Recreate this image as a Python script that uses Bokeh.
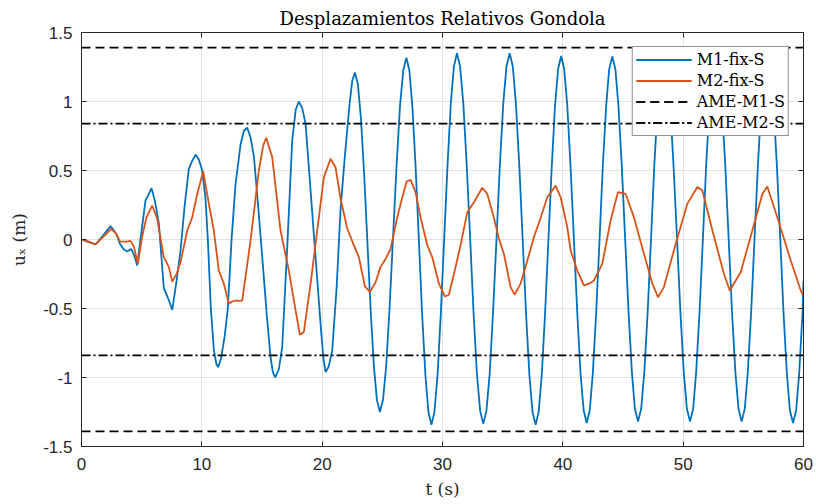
from bokeh.plotting import figure
from bokeh.models import LinearAxis, FixedTicker, CustomJSTickFormatter, Range1d
from bokeh.embed import file_html
from bokeh.resources import INLINE

# ---- data ----
t_m1 = [0, 0.5, 1.16, 1.8, 2.41, 2.9, 3.19, 3.5, 3.8, 4.13, 4.4, 4.63, 4.96, 5.32, 5.6, 5.82,
        6.1, 6.43, 6.84, 7.26, 7.54, 7.9, 8.23, 8.56, 8.92, 9.2, 9.48, 9.75, 10.03, 10.3, 10.5,
        10.75, 11.0, 11.2, 11.36, 11.6, 11.9, 12.16, 12.47, 12.8, 13.22, 13.5, 13.77, 14.05,
        14.33, 14.7, 15.02, 15.4, 15.71, 15.9, 16.1, 16.4, 16.68, 17.1, 17.51, 17.8, 18.06,
        18.35, 18.62, 19.0, 19.45, 19.9, 20.1, 20.28, 20.55, 20.84, 21.2, 21.53, 21.9, 22.3,
        22.5, 22.72,
        22.97, 23.22, 23.49, 23.76, 24.03, 24.30, 24.55, 24.80,
        25.06, 25.33, 25.61, 25.90, 26.19, 26.47, 26.74, 27.00,
        27.25, 27.50, 27.77, 28.04, 28.31, 28.58, 28.83, 29.08,
        29.33, 29.59, 29.86, 30.14, 30.42, 30.69, 30.95, 31.20,
        31.46, 31.73, 32.01, 32.30, 32.58, 32.86, 33.13, 33.39,
        33.65, 33.92, 34.20, 34.49, 34.77, 35.05, 35.32, 35.58,
        35.84, 36.10, 36.38, 36.66, 36.94, 37.22, 37.48, 37.74,
        37.99, 38.25, 38.52, 38.80, 39.08, 39.35, 39.61, 39.86,
        40.11, 40.37, 40.64, 40.92, 41.20, 41.47, 41.73, 41.98,
        42.24, 42.49, 42.77, 43.05, 43.32, 43.60, 43.85, 44.11,
        44.37, 44.62, 44.90, 45.18, 45.46, 45.74, 45.99, 46.25,
        46.51, 46.77, 47.05, 47.33, 47.60, 47.88, 48.14, 48.40,
        48.66, 48.92, 49.20, 49.49, 49.77, 50.05, 50.31, 50.57,
        50.83, 51.08, 51.36, 51.64, 51.91, 52.19, 52.44, 52.70,
        52.96, 53.22, 53.50, 53.78, 54.06, 54.34, 54.60, 54.86,
        55.12, 55.37, 55.65, 55.93, 56.21, 56.49, 56.74, 57.00,
        57.26, 57.51, 57.79, 58.07, 58.34, 58.62, 58.87, 59.13,
        59.39, 59.64, 59.92, 60.0]
u_m1 = [0, -0.015, -0.036, 0.03, 0.097, 0.04, -0.03, -0.07, -0.087, -0.068, -0.12, -0.188,
        0.04, 0.283, 0.33, 0.372, 0.28, 0.114, -0.35, -0.44, -0.51, -0.3, -0.08, 0.234, 0.512,
        0.57, 0.614, 0.58, 0.5, 0.3, 0.0, -0.5, -0.8, -0.9, -0.925, -0.86, -0.7, -0.5, 0.0,
        0.4, 0.69, 0.79, 0.81, 0.74, 0.60, 0.22, -0.128, -0.55, -0.853, -0.96, -1.0, -0.94,
        -0.78, -0.05, 0.717, 0.94, 1.0, 0.95, 0.838, 0.4, -0.128, -0.65, -0.86, -0.96, -0.92,
        -0.80, -0.35, 0.22, 0.62, 1.0, 1.15, 1.21,
        1.124, 0.878, 0.472, -0.02, -0.512, -0.918, -1.164, -1.25,
        -1.16, -0.904, -0.48, 0.033, 0.546, 0.97, 1.226, 1.317,
        1.224, 0.958, 0.519, -0.013, -0.545, -0.984, -1.25, -1.343,
        -1.249, -0.979, -0.535, 0.004, 0.542, 0.986, 1.256, 1.35,
        1.256, 0.987, 0.544, 0.007, -0.53, -0.973, -1.242, -1.336,
        -1.242, -0.973, -0.53, 0.007, 0.544, 0.987, 1.256, 1.35,
        1.256, 0.986, 0.542, 0.004, -0.535, -0.979, -1.249, -1.343,
        -1.249, -0.982, -0.541, -0.007, 0.528, 0.969, 1.236, 1.33,
        1.237, 0.971, 0.532, 0.0, -0.532, -0.971, -1.237, -1.33,
        -1.237, -0.971, -0.533, -0.002, 0.529, 0.967, 1.233, 1.326,
        1.233, 0.969, 0.532, 0.003, -0.526, -0.963, -1.227, -1.32,
        -1.227, -0.962, -0.525, 0.005, 0.535, 0.972, 1.237, 1.33,
        1.237, 0.972, 0.535, 0.005, -0.525, -0.962, -1.227, -1.32,
        -1.227, -0.962, -0.525, 0.005, 0.535, 0.972, 1.237, 1.33,
        1.237, 0.972, 0.535, 0.005, -0.525, -0.962, -1.227, -1.32,
        -1.227, -0.962, -0.525, 0.005, 0.535, 0.972, 1.237, 1.33,
        1.237, 0.971, 0.532, 0.0, -0.532, -0.971, -1.237, -1.33,
        -1.237, -0.971, -0.532, -0.3]

t_m2 = [0, 0.5, 1.16, 1.8, 2.47, 2.9, 3.19, 3.74, 4.07, 4.35, 4.68, 5.04, 5.4, 5.87, 6.29,
        6.84, 7.26, 7.54, 7.9, 8.23, 8.79, 9.2, 9.62, 10.11, 10.58, 11.0, 11.41, 11.83, 12.25,
        12.5, 12.8, 13.1, 13.36, 14.05, 14.74, 15.1, 15.35, 15.85, 16.54, 17.23, 17.79, 18.15,
        18.48, 19.04, 19.59, 20.14, 20.7, 21.11, 21.53, 22.09, 22.64, 23.05, 23.55, 23.97,
        24.44, 24.85, 25.27, 25.69, 26.24, 26.66, 27.02, 27.35, 27.76, 28.18, 28.74, 29.15,
        29.7, 30.2, 30.53, 30.95, 31.5, 32.06, 32.61, 33.31, 33.72, 34.27, 34.69, 35.1, 35.66,
        35.99, 36.49, 37.05, 37.6, 38.16, 38.71, 39.4, 39.82, 40.37, 40.65, 41.2, 41.75, 42.2,
        42.58, 43.28, 43.97, 44.58, 45.22, 45.91, 46.74, 47.44, 47.91, 48.4, 49.38, 50.35,
        51.18, 51.6, 52.43, 53.39, 53.87, 54.78, 55.75, 56.58, 56.99, 57.83, 58.94, 59.77, 60.0]
u_m2 = [0, -0.012, -0.036, 0.02, 0.077, 0.04, -0.013, -0.015, -0.01, -0.05, -0.176, 0.02,
        0.16, 0.246, 0.15, -0.128, -0.2, -0.305, -0.25, -0.164, 0.065, 0.16, 0.33, 0.495, 0.26,
        0.065, -0.225, -0.32, -0.466, -0.45, -0.442, -0.445, -0.442, -0.007, 0.5, 0.68, 0.737,
        0.597, 0.065, -0.225, -0.514, -0.69, -0.67, -0.32, 0.065, 0.45, 0.585, 0.524, 0.295,
        0.078, -0.043, -0.128, -0.34, -0.38, -0.31, -0.20, -0.14, -0.068, 0.16, 0.306, 0.42,
        0.432, 0.343, 0.16, -0.043, -0.128, -0.32, -0.413, -0.40, -0.25, -0.043, 0.198, 0.27,
        0.375, 0.33, 0.16, 0.005, -0.104, -0.345, -0.40, -0.32, -0.152, 0.017, 0.16, 0.306,
        0.39, 0.306, 0.09, -0.08, -0.225, -0.333, -0.32, -0.297, -0.176, 0.138, 0.343, 0.33,
        0.16, -0.104, -0.32, -0.418, -0.345, -0.03, 0.26, 0.38, 0.355, 0.065, -0.25, -0.37,
        -0.237, 0.065, 0.33, 0.384, 0.16, -0.152, -0.37, -0.41]

ame_m1 = 1.39
ame_m2 = 0.84
t_span = [0, 60]
x_ticks = [0, 10, 20, 30, 40, 50, 60]
y_ticks = [-1.5, -1, -0.5, 0, 0.5, 1, 1.5]

AXIS_COLOR = "#262626"
TICK_FONT = "Liberation Sans"
SERIF = "DejaVu Serif"

p = figure(width=816, height=504, output_backend="svg", toolbar_location=None,
           x_range=Range1d(t_span[0], t_span[1]), y_range=Range1d(-1.5, 1.5),
           min_border_left=81, min_border_right=13, min_border_top=32, min_border_bottom=58,
           title="Desplazamientos Relativos Gondola",
           x_axis_label="t (s)", y_axis_label="uₓ (m)")

p.title.align = "center"
p.title.text_font = SERIF
p.title.text_font_size = "18px"
p.title.text_font_style = "normal"
p.title.text_color = "black"
p.title.offset = 0
p.title.standoff = 8

p.background_fill_color = "white"
p.border_fill_color = "white"
p.outline_line_color = AXIS_COLOR
p.outline_line_width = 1

fmt = CustomJSTickFormatter(code="return tick.toString();")

for ax in (p.xaxis[0], p.yaxis[0]):
    ax.ticker = FixedTicker(ticks=x_ticks if ax is p.xaxis[0] else y_ticks)
    ax.formatter = fmt
    ax.major_tick_in = 5
    ax.major_tick_out = 0
    ax.minor_tick_line_color = None
    ax.axis_line_color = AXIS_COLOR
    ax.major_tick_line_color = AXIS_COLOR
    ax.major_label_text_font = TICK_FONT
    ax.major_label_text_font_size = "17px"
    ax.major_label_text_color = AXIS_COLOR
    ax.axis_label_text_font = SERIF
    ax.axis_label_text_font_size = "17px"
    ax.axis_label_text_font_style = "normal"
    ax.axis_label_text_color = AXIS_COLOR

p.xaxis[0].major_label_standoff = 11
p.xaxis[0].axis_label_standoff = 6
p.yaxis[0].major_label_standoff = 9
p.yaxis[0].axis_label_standoff = 11

top_ax = LinearAxis(ticker=FixedTicker(ticks=x_ticks), formatter=fmt)
right_ax = LinearAxis(ticker=FixedTicker(ticks=y_ticks), formatter=fmt)
for ax in (top_ax, right_ax):
    ax.major_tick_in = 5
    ax.major_tick_out = 0
    ax.minor_tick_line_color = None
    ax.axis_line_color = AXIS_COLOR
    ax.major_tick_line_color = AXIS_COLOR
    ax.major_label_text_font_size = "1px"
    ax.major_label_text_color = None
    ax.major_label_standoff = 0
p.add_layout(top_ax, "above")
p.add_layout(right_ax, "right")

p.xgrid.ticker = FixedTicker(ticks=x_ticks)
p.ygrid.ticker = FixedTicker(ticks=y_ticks)
p.xgrid.grid_line_color = "#e2e2e2"
p.ygrid.grid_line_color = "#e2e2e2"

p.line(t_m1, u_m1, line_color="#0072BD", line_width=1.8, legend_label="M1-fix-S")
p.line(t_m2, u_m2, line_color="#D95319", line_width=1.8, legend_label="M2-fix-S")
for sgn in (1, -1):
    p.line(t_span, [sgn * ame_m1, sgn * ame_m1], line_color="black", line_width=1.7,
           line_dash="9 5", legend_label="AME-M1-S")
for sgn in (1, -1):
    p.line(t_span, [sgn * ame_m2, sgn * ame_m2], line_color="black", line_width=1.7,
           line_dash="9 3 2 3", legend_label="AME-M2-S")

lg = p.legend[0]
lg.location = "top_right"
lg.margin = 14
lg.padding = 3
lg.spacing = 2
lg.label_height = 19
lg.glyph_height = 19
lg.glyph_width = 56
lg.label_standoff = 5
lg.label_text_font = SERIF
lg.label_text_font_size = "16px"
lg.label_text_color = "black"
lg.border_line_color = AXIS_COLOR
lg.border_line_width = 1
lg.background_fill_alpha = 1.0

open("out.html", "w").write(file_html(p, INLINE))
